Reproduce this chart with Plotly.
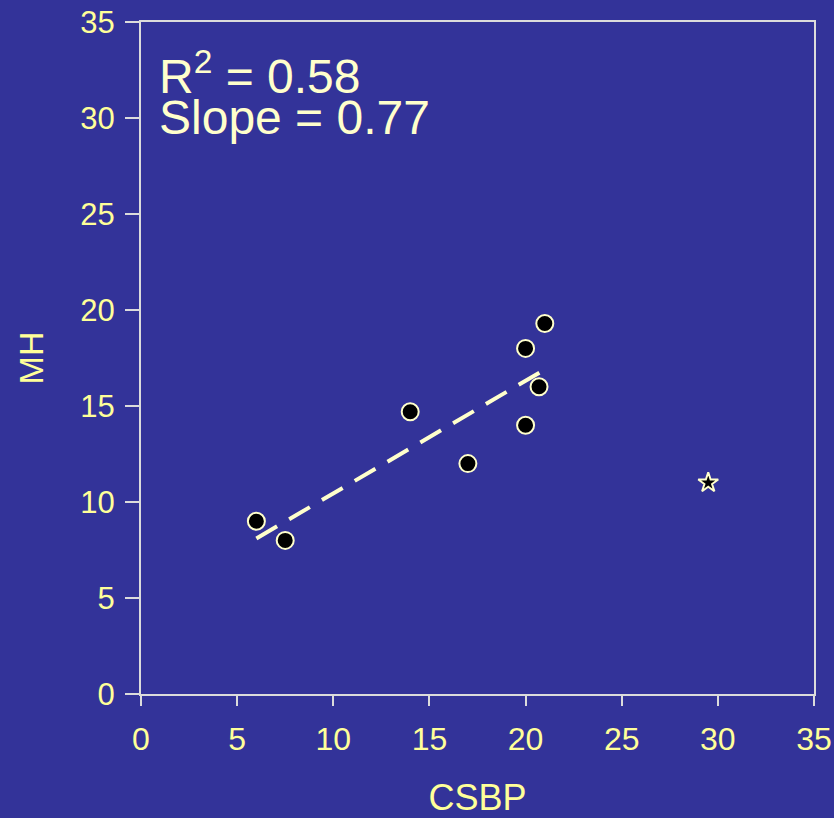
import plotly.graph_objects as go

csbp = [6, 7.5, 14, 17, 20, 20, 20.7, 21]
mh = [9, 8, 14.7, 12, 18, 14, 16, 19.3]
outlier_x = [29.5]
outlier_y = [11]
fit_x = [6, 21]
fit_y = [8.1, 16.9]
ticks = [0, 5, 10, 15, 20, 25, 30, 35]

BG = "#333399"
TICKC = "#ffff99"
CREAM = "#ffffcc"
AXC = "#dcdcdc"
FONT = "Liberation Sans, Arial, sans-serif"

fig = go.Figure()
fig.add_trace(go.Scatter(x=fit_x, y=fit_y, mode="lines",
                         line=dict(color=CREAM, width=4, dash="24px,14px"),
                         hoverinfo="skip", showlegend=False))
fig.add_trace(go.Scatter(x=csbp, y=mh, mode="markers",
                         marker=dict(symbol="circle", size=17, color="black",
                                     line=dict(color=CREAM, width=2)),
                         showlegend=False))
fig.add_trace(go.Scatter(x=outlier_x, y=outlier_y, mode="markers",
                         marker=dict(symbol="star", size=15, color="black",
                                     line=dict(color=CREAM, width=2)),
                         showlegend=False))

axis_common = dict(range=[0, 35], tickvals=ticks, showgrid=False, zeroline=False,
                   showline=True, linecolor=AXC, linewidth=2, mirror=True,
                   ticks="outside", tickcolor=AXC, tickwidth=2, automargin=False)

fig.update_xaxes(**axis_common, ticklen=10, ticklabelstandoff=6,
                 tickfont=dict(family=FONT, size=32, color=TICKC),
                 title=dict(text="CSBP", font=dict(family=FONT, size=36, color=TICKC), standoff=34))
fig.update_yaxes(**axis_common, ticklen=14, ticklabelstandoff=4,
                 tickfont=dict(family=FONT, size=31, color=TICKC),
                 title=dict(text="MH", font=dict(family=FONT, size=34, color=TICKC), standoff=26))

fig.add_annotation(x=0.024, y=0.876, xref="paper", yref="paper", xanchor="left", yanchor="bottom",
                   text="R<sup>2</sup> = 0.58", showarrow=False,
                   font=dict(family=FONT, size=48, color=CREAM))
fig.add_annotation(x=0.024, y=0.815, xref="paper", yref="paper", xanchor="left", yanchor="bottom",
                   text="Slope = 0.77", showarrow=False,
                   font=dict(family=FONT, size=48, color=CREAM))

fig.update_layout(width=834, height=818, paper_bgcolor=BG, plot_bgcolor=BG,
                  margin=dict(l=141, r=20, t=22, b=124, autoexpand=False), showlegend=False)

fig.write_html("out.html")
